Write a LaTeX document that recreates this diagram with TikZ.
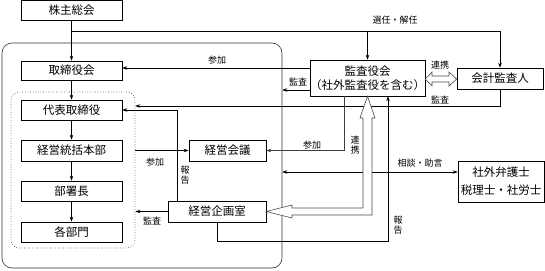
\documentclass[tikz,border=0pt]{standalone}
\usepackage{fontspec}
\setmainfont{Noto Sans CJK JP}
\usetikzlibrary{arrows.meta,calc}
\begin{document}
\begin{tikzpicture}[x=1pt,y=-1pt,
  line width=0.6pt,
  >={Stealth[length=5pt,width=3.5pt]},
  box/.style={draw,inner sep=0pt,font=\fontsize{11.5}{14}\selectfont},
  lbl/.style={inner sep=0pt,font=\fontsize{9}{10}\selectfont},
  vlbl/.style={inner sep=0pt,align=center,font=\fontsize{9}{10}\selectfont},
  hollow/.style={draw=black!70,fill=white,line width=0.6pt}]
\useasboundingbox (0,0) rectangle (545,270);
% containers
\node[draw=black!80,rounded corners=10pt,minimum width=280pt,minimum height=225pt,inner sep=0pt] (company) at (142,155.5) {};
\node[draw=black!75,dotted,rounded corners=8pt,minimum width=124pt,minimum height=156pt,inner sep=0pt] (grp) at (73,170) {};
% boxes
\node[box,minimum width=101pt,minimum height=20pt] (kabu) at (71.5,10.5) {株主総会};
\node[box,minimum width=101pt,minimum height=19pt] (tori) at (71.5,70.5) {取締役会};
\node[box,minimum width=101pt,minimum height=20pt] (daihyo) at (71.5,110) {代表取締役};
\node[box,minimum width=101pt,minimum height=21pt] (tokatsu) at (71.5,150.5) {経営統括本部};
\node[box,minimum width=101pt,minimum height=20pt] (busho) at (71.5,191) {部署長};
\node[box,minimum width=101pt,minimum height=20pt] (kakubu) at (71.5,232) {各部門};
\node[box,minimum width=77pt,minimum height=21pt] (kaigi) at (227.5,150.5) {経営会議};
\node[box,minimum width=98pt,minimum height=21pt] (kikaku) at (217,211.5) {経営企画室};
\node[box,minimum width=113pt,minimum height=36pt,align=center] (kansa) at (367.5,78) {監査役会\\（社外監査役を含む）};
\node[box,minimum width=86pt,minimum height=21pt] (kaikei) at (500,78.5) {会計監査人};
\node[box,minimum width=86pt,minimum height=41pt,align=center,font=\fontsize{11.5}{18}\selectfont] (bengo) at (501,181.5) {社外弁護士\\税理士・社労士};
% coordinates
\coordinate (j1) at ($(kabu.south)+(0,10.5)$);
\coordinate (c1) at (388,241);
% connectors
\draw[->] (kabu) -- (tori);
\draw[->] (tori) -- (daihyo);
\draw[->] (daihyo) -- (tokatsu);
\draw[->] (tokatsu) -- (busho);
\draw[->] (busho) -- (kakubu);
\draw[->] (j1) -| (kaikei.north);
\draw[->] (j1 -| kansa.north) -- (kansa.north);
\draw[->] (kansa.west |- 0,68) -- (tori.east |- 0,68);
\draw[->] (kansa.west |- 0,90) -- (company.east |- 0,90);
\draw[->] (kaikei.south) |- (grp.east |- 0,106);
\draw[->] (kikaku.north -| 177,0) |- (daihyo.east);
\draw[->] (grp.east |- tokatsu.east) -- (kaigi.west);
\draw[->,draw=black!75] (kansa.south -| 344,0) |- (kaigi.east);
\draw[<->] (company.east |- 0,172) -- (bengo.west |- 0,172);
\draw[->] (kikaku.west) -- (grp.east |- kikaku.west);
\draw[->] (kikaku.south) |- (c1) -- (kansa.south -| c1);
% hollow double arrows
\draw[hollow] (kikaku.east) -- (292,205) -- (292,208) -- (363,208) -- (363,118) -- (360,118)
  -- (kansa.south -| 367.5,0) -- (375,118) -- (372,118) -- (372,215) -- (292,215) -- (292,218) -- cycle;
\draw[hollow] (kansa.east |- 0,79) -- (432,72) -- (432,76) -- (449,76) -- (449,72) -- (kaikei.west |- 0,79)
  -- (449,86) -- (449,82) -- (432,82) -- (432,86) -- cycle;
% labels
\node[lbl] (l1) at (395,20) {選任・解任};
\node[lbl] (l2) at (217,60) {参加};
\node[lbl] (l3) at (298,82) {監査};
\node[lbl] (l4) at (440,65) {連携};
\node[lbl] (l5) at (440,100) {監査};
\node[vlbl] (l6) at (355,145) {連\\携};
\node[lbl] (l7) at (155,162) {参加};
\node[lbl] (l8) at (312,145) {参加};
\node[vlbl] (l9) at (185,175) {報\\告};
\node[lbl] (l10) at (420,163) {相談・助言};
\node[lbl] (l11) at (152,221) {監査};
\node[vlbl] (l12) at (398,225) {報\\告};
\end{tikzpicture}
\end{document}
